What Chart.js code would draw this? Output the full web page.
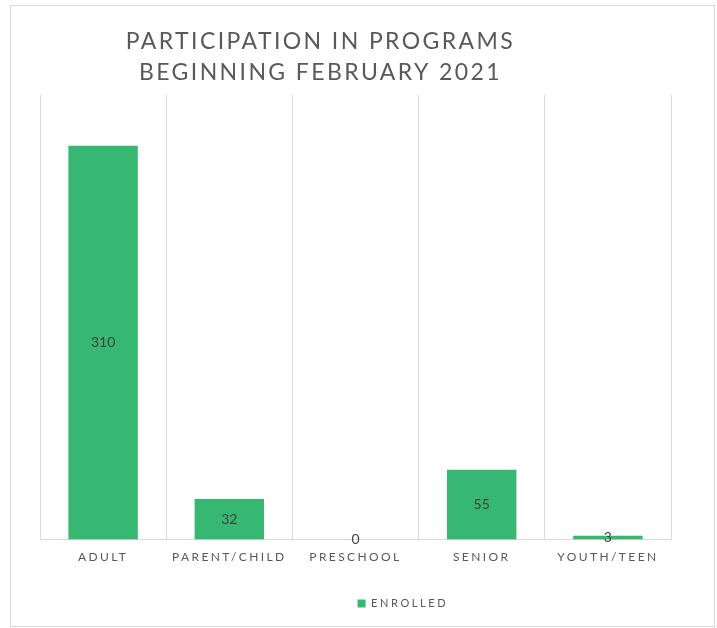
<!DOCTYPE html>
<html>
<head>
<meta charset="utf-8">
<script src="https://cdn.jsdelivr.net/npm/chart.js@4"></script>
<style>
  html, body { margin: 0; padding: 0; background: #fff; }
  #frame { position: absolute; left: 10px; top: 5px; width: 705px; height: 622px; border: 1px solid #d9d9d9; box-sizing: border-box; }
  canvas { display: block; }
</style>
</head>
<body>
<div id="frame"><canvas id="chart" width="703" height="620"></canvas></div>
<script>
const categories = ['ADULT', 'PARENT/CHILD', 'PRESCHOOL', 'SENIOR', 'YOUTH/TEEN'];
const enrolled = [310, 32, 0, 55, 3];
const titleLines = ['PARTICIPATION IN PROGRAMS', 'BEGINNING FEBRUARY 2021'];
const seriesName = 'ENROLLED';

const GREEN = '#36b772';
const GREY = '#595959';

// wrap a draw function so it runs with its own letter spacing
function spaced(obj, key, spacing, dx) {
    if (!obj || obj['_wrapped_' + key]) return;
    const orig = obj[key];
    obj[key] = function() {
        const ctx = this.ctx;
        ctx.save();
        ctx.letterSpacing = spacing;
        if (dx) ctx.translate(dx, 0);
        orig.apply(this, arguments);
        ctx.restore();
    };
    obj['_wrapped_' + key] = true;
}

const lookPlugin = {
    id: 'look',
    beforeDraw(chart) {
        spaced(chart.titleBlock, 'draw', '2.4px', -35);
        spaced(chart.legend, 'draw', '2.6px', 37);
        spaced(chart.scales.x, 'drawLabels', '2.4px');
    },
    afterDatasetsDraw(chart) {
        const ctx = chart.ctx;
        const meta = chart.getDatasetMeta(0);
        ctx.save();
        ctx.font = '14px Lato, "Open Sans", sans-serif';
        ctx.fillStyle = '#404040';
        ctx.textAlign = 'center';
        ctx.textBaseline = 'middle';
        meta.data.forEach((bar, i) => {
            ctx.fillText(String(enrolled[i]), bar.x, (bar.y + bar.base) / 2);
        });
        ctx.restore();
    }
};

new Chart(document.getElementById('chart'), {
    type: 'bar',
    data: {
        labels: categories,
        datasets: [{
            label: seriesName,
            data: enrolled,
            backgroundColor: GREEN,
            borderWidth: 0,
            categoryPercentage: 1,
            barPercentage: 0.55
        }]
    },
    options: {
        responsive: false,
        animation: false,
        layout: { padding: { left: 29, right: 43, top: 0, bottom: 7 } },
        scales: {
            x: {
                grid: { offset: true, color: '#d9d9d9', drawTicks: false },
                border: { color: '#d9d9d9' },
                ticks: {
                    color: GREY,
                    padding: 10,
                    font: { family: 'Lato, "Open Sans", sans-serif', size: 12 }
                }
            },
            y: {
                display: false,
                min: 0,
                max: 350
            }
        },
        plugins: {
            title: {
                display: true,
                text: titleLines,
                color: GREY,
                font: { family: 'Lato, "Open Sans", sans-serif', size: 23, weight: 'normal', lineHeight: 1.348 },
                padding: { top: 20.5, bottom: 6.5 }
            },
            legend: {
                position: 'bottom',
                labels: {
                    color: GREY,
                    boxWidth: 8,
                    boxHeight: 8,
                    padding: 24,
                    font: { family: 'Lato, "Open Sans", sans-serif', size: 11 }
                }
            },
            tooltip: { enabled: false }
        }
    },
    plugins: [lookPlugin]
});
</script>
</body>
</html>
